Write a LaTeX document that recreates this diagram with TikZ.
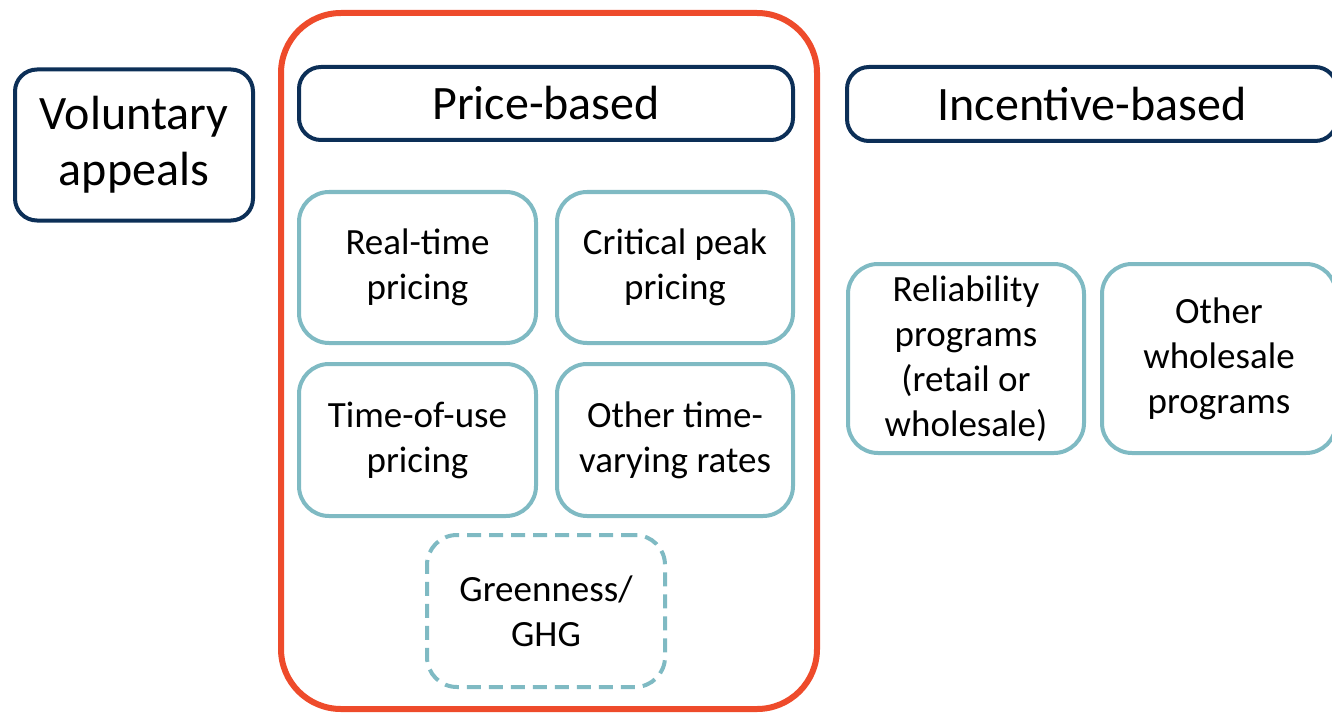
\documentclass[tikz,border=0pt]{standalone}
\usepackage{fontspec}
\setmainfont{Carlito}
\definecolor{navy}{HTML}{0C2F57}
\definecolor{teal}{HTML}{7FBAC3}
\definecolor{redorange}{HTML}{EE4B2B}
\begin{document}
\begin{tikzpicture}[x=1pt,y=-1pt,
  headbox/.style={draw=navy, line width=4pt, rounded corners=22pt, inner sep=0pt,
    align=center, font=\fontsize{48}{56}\selectfont},
  progbox/.style={draw=teal, line width=4pt, rounded corners=30pt, inner sep=0pt,
    align=center, font=\fontsize{37}{45}\selectfont},
  groupbox/.style={draw=redorange, line width=6pt, rounded corners=60pt}]
\useasboundingbox (0,0) rectangle (1332,714);
\clip (0,0) rectangle (1332,714);

% price-based group outline
\draw[groupbox] (281,13) rectangle (817,709);

% category headers
\node[headbox, minimum width=238pt, minimum height=151pt] (vol) at (134,145) {Voluntary\\appeals};
\node[headbox, minimum width=494pt, minimum height=73pt] (price) at (546,103.5) {Price-based};
\node[headbox, minimum width=490pt, minimum height=74pt] (incent) at (1092,104) {Incentive-based};

% price-based programs
\node[progbox, minimum width=237pt, minimum height=151pt] (rtp) at (417.5,267.5) {Real-time\\pricing};
\node[progbox, minimum width=236pt, minimum height=151pt] (cpp) at (675,267.5) {Critical peak\\pricing};
\node[progbox, minimum width=237pt, minimum height=152pt] (tou) at (417.5,440) {Time-of-use\\pricing};
\node[progbox, minimum width=236pt, minimum height=152pt] (otv) at (675,440) {Other time-\\varying rates};
\node[progbox, dash pattern=on 14pt off 8pt, minimum width=238pt, minimum height=152pt] (ghg) at (546,611) {Greenness/\\GHG};

% incentive-based programs
\node[progbox, minimum width=236pt, minimum height=189pt] (rel) at (966,358.5) {Reliability\\programs\\(retail or\\wholesale)};
\node[progbox, minimum width=234pt, minimum height=189pt] (oth) at (1219,358.5) {Other\\wholesale\\programs};
\end{tikzpicture}
\end{document}
